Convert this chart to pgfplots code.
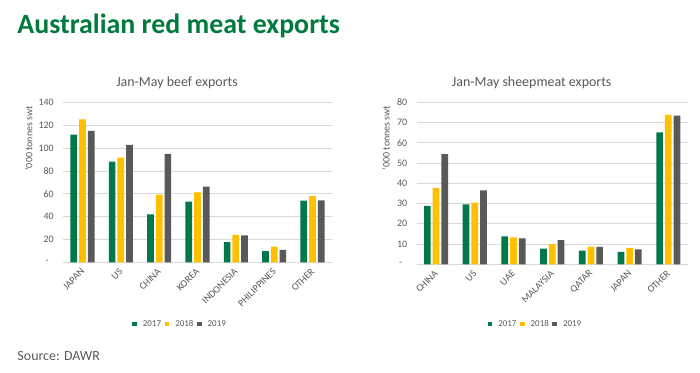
\documentclass[border=0pt]{standalone}
\usepackage{fontspec}
\setmainfont{Carlito}
\usepackage{pgfplots}
\pgfplotsset{compat=1.18}
\definecolor{cgreen}{HTML}{00784A}
\definecolor{cyellow}{HTML}{FFC000}
\definecolor{cgray}{HTML}{595959}
\definecolor{txtgray}{HTML}{595959}
\definecolor{gridgray}{HTML}{D9D9D9}
\definecolor{titlegreen}{HTML}{007A3D}

\pgfplotsset{
  sqlegend/.style={legend image code/.code={\fill[##1] (0bp,-2.4bp) rectangle (4.7bp,2.4bp);}},
  meat/.style={
    scale only axis,
    ybar=2bp, bar width=6.7bp,
    xmin=-0.5, xmax=6.5,
    xtick={0,...,6},
    axis line style={draw=none},
    major tick length=0pt,
    ymajorgrids, grid style={draw=gridgray, line width=0.8bp},
    every tick label/.append style={font=\fontsize{10}{12}\selectfont, text=txtgray},
    xticklabel style={yshift=-7bp, xshift=1bp, rotate=45, anchor=east, inner sep=1bp},
    yticklabel style={xshift=-6bp},
    ylabel style={font=\fontsize{10}{12}\selectfont, text=txtgray, anchor=east},
    legend columns=3,
    legend style={draw=none, fill=none, font=\fontsize{9}{11}\selectfont, text=txtgray, anchor=center,
      /tikz/every even column/.append style={column sep=1.5bp},
      /tikz/every odd column/.append style={column sep=4bp}},
    every axis plot/.append style={draw=none, sqlegend},
  }
}

\begin{document}
\begin{tikzpicture}
\path[use as bounding box] (0bp,0bp) rectangle (700bp,373bp);
\node[anchor=base west, inner sep=0pt, font=\fontsize{28}{30}\selectfont\bfseries, text=titlegreen] at (17.3bp,339.7bp) {Australian red meat exports};
\node[anchor=base, inner sep=0pt, font=\fontsize{14}{16}\selectfont, text=txtgray] at (177bp,286.3bp) {Jan-May beef exports};
\node[anchor=base, inner sep=0pt, font=\fontsize{14}{16}\selectfont, text=txtgray] at (531.7bp,286.3bp) {Jan-May sheepmeat exports};
\node[anchor=base west, inner sep=0pt, font=\fontsize{14}{16}\selectfont, text=txtgray] at (17.3bp,12.3bp) {Source: DAWR};

\begin{axis}[meat,
  at={(63.3bp,110.7bp)}, anchor=south west,
  width=268.4bp, height=159.6bp,
  ymin=0, ymax=140, ytick={0,20,...,140},
  yticklabels={{-\hspace*{5bp}},20,40,60,80,100,120,140},
  xticklabels={JAPAN,US,CHINA,KOREA,INDONESIA,PHILIPPINES,OTHER},
  ylabel={'000 tonnes swt},
  ylabel style={at={(axis description cs:-0.128,1.0)}},
  legend style={at={(axis description cs:0.435,-0.387)}},
]
\addplot[fill=cgreen] coordinates {(0,112) (1,88.3) (2,42.1) (3,53.2) (4,17.8) (5,9.9) (6,54.1)};
\addplot[fill=cyellow] coordinates {(0,125.4) (1,91.8) (2,59.4) (3,61.4) (4,24) (5,13.7) (6,58.2)};
\addplot[fill=cgray] coordinates {(0,115.2) (1,102.9) (2,95) (3,66.4) (4,23.7) (5,10.8) (6,54.4)};
\legend{2017,2018,2019}
\end{axis}

\begin{axis}[meat,
  at={(416.7bp,108.7bp)}, anchor=south west,
  width=271bp, height=162bp,
  ymin=0, ymax=80, ytick={0,10,...,80},
  yticklabels={{-\hspace*{5bp}},10,20,30,40,50,60,70,80},
  xticklabels={CHINA,US,UAE,MALAYSIA,QATAR,JAPAN,OTHER},
  ylabel={'000 tonnes swt},
  ylabel style={at={(axis description cs:-0.1125,1.0)}},
  legend style={at={(axis description cs:0.438,-0.369)}},
]
\addplot[fill=cgreen] coordinates {(0,28.8) (1,29.6) (2,13.8) (3,7.7) (4,6.7) (5,6.1) (6,65.1)};
\addplot[fill=cyellow] coordinates {(0,37.8) (1,30.4) (2,13.3) (3,10.0) (4,8.7) (5,8.1) (6,73.8)};
\addplot[fill=cgray] coordinates {(0,54.4) (1,36.5) (2,12.8) (3,12.0) (4,8.6) (5,7.4) (6,73.4)};
\legend{2017,2018,2019}
\end{axis}
\end{tikzpicture}
\end{document}
